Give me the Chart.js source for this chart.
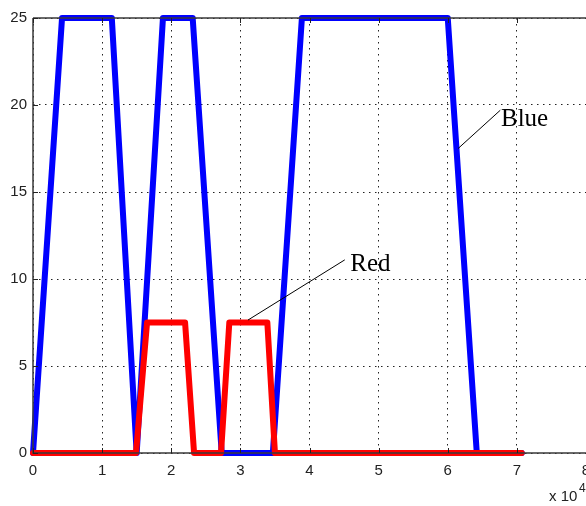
<!DOCTYPE html>
<html>
<head>
<meta charset="utf-8">
<script src="https://cdn.jsdelivr.net/npm/chart.js@4/dist/chart.umd.min.js"></script>
<style>
  html, body { margin: 0; padding: 0; background: #fff; overflow: hidden; }
  #wrap { width: 620px; height: 506px; }
</style>
</head>
<body>
<div id="wrap"><canvas id="c" width="620" height="506"></canvas></div>
<script>
// ---- data (x in units of 10^4) ----
const blueX = [0, 0.42, 1.14, 1.50, 1.88, 2.31, 2.73, 3.47, 3.89, 6.00, 6.42, 7.07];
const blueY = [0, 25,   25,   0,    25,   25,   0,    0,    25,   25,   0,    0];
const redX  = [0, 1.49, 1.65, 2.20, 2.33, 2.72, 2.84, 3.39, 3.50, 7.07];
const redY  = [0, 0,    7.5,  7.5,  0,    0,    7.5,  7.5,  0,    0];
const xTicks = [0, 1, 2, 3, 4, 5, 6, 7, 8];
const yTicks = [0, 5, 10, 15, 20, 25];
const xExponentLabel = ['x 10', '4'];
const annotations = [
  { text: 'Blue', from: [6.15, 17.5], to: [6.76, 19.7], textAt: [6.77, 18.8] },
  { text: 'Red',  from: [3.11, 7.64], to: [4.51, 11.1], textAt: [4.59, 10.46] }
];

const toPts = (xs, ys) => xs.map((x, i) => ({ x: x, y: ys[i] }));

const overlay = {
  id: 'overlay',
  afterDatasetsDraw(chart) {
    const ctx = chart.ctx;
    const xs = chart.scales.x, ys = chart.scales.y;
    const a = chart.chartArea;
    ctx.save();
    // axis lines on top of data
    ctx.strokeStyle = '#3a3a3a';
    ctx.lineWidth = 1.5;
    ctx.beginPath();
    ctx.moveTo(a.left, a.top); ctx.lineTo(a.left, a.bottom); ctx.lineTo(a.right + 5, a.bottom);
    ctx.moveTo(a.left, a.top); ctx.lineTo(a.right + 5, a.top);
    ctx.stroke();
    // inward tick marks
    ctx.lineWidth = 1;
    ctx.strokeStyle = '#222';
    ctx.beginPath();
    xTicks.forEach(v => {
      const px = Math.round(xs.getPixelForValue(v)) + 0.5;
      ctx.moveTo(px, a.bottom); ctx.lineTo(px, a.bottom - 5);
      ctx.moveTo(px, a.top); ctx.lineTo(px, a.top + 5);
    });
    yTicks.forEach(v => {
      const py = Math.round(ys.getPixelForValue(v)) + 0.5;
      ctx.moveTo(a.left, py); ctx.lineTo(a.left + 5, py);
    });
    ctx.stroke();
    // annotations
    ctx.strokeStyle = '#000';
    ctx.lineWidth = 1;
    ctx.fillStyle = '#000';
    ctx.font = '25px "Liberation Serif", "DejaVu Serif", serif';
    ctx.textBaseline = 'alphabetic';
    ctx.textAlign = 'left';
    annotations.forEach(an => {
      ctx.beginPath();
      ctx.moveTo(xs.getPixelForValue(an.from[0]), ys.getPixelForValue(an.from[1]));
      ctx.lineTo(xs.getPixelForValue(an.to[0]), ys.getPixelForValue(an.to[1]));
      ctx.stroke();
      ctx.fillText(an.text, xs.getPixelForValue(an.textAt[0]), ys.getPixelForValue(an.textAt[1]));
    });
    // exponent label
    ctx.fillStyle = '#222';
    ctx.font = '15px "Liberation Sans", Arial, sans-serif';
    ctx.fillText(xExponentLabel[0], 549, 501);
    ctx.font = '12px "Liberation Sans", Arial, sans-serif';
    ctx.fillText(xExponentLabel[1], 579, 492);
    ctx.restore();
  }
};

new Chart(document.getElementById('c'), {
  type: 'line',
  data: {
    datasets: [
      { label: 'Red', data: toPts(redX, redY), borderColor: '#ff0000', borderWidth: 6, clip: false,
        pointRadius: 0, tension: 0, order: 0, borderJoinStyle: 'round', borderCapStyle: 'round' },
      { label: 'Blue', data: toPts(blueX, blueY), borderColor: '#0000ff', borderWidth: 6, clip: false,
        pointRadius: 0, tension: 0, order: 1, borderJoinStyle: 'round', borderCapStyle: 'round' }
    ]
  },
  options: {
    responsive: false,
    animation: false,
    devicePixelRatio: 1,
    layout: { padding: { top: 18, right: 34, left: 0, bottom: 0 } },
    plugins: { legend: { display: false }, tooltip: { enabled: false } },
    scales: {
      x: {
        type: 'linear', min: 0, max: 8,
        afterBuildTicks: s => { s.ticks = xTicks.map(v => ({ value: v })); },
        afterFit: s => { s.height = 53; },
        grid: { color: '#222', lineWidth: 1, drawTicks: false },
        border: { display: false, dash: [1.5, 4.5] },
        ticks: { padding: 9, color: '#222', font: { family: '"Liberation Sans", Arial, sans-serif', size: 15 }, maxRotation: 0, autoSkip: false }
      },
      y: {
        type: 'linear', min: 0, max: 25,
        afterBuildTicks: s => { s.ticks = yTicks.map(v => ({ value: v })); },
        afterFit: s => { s.width = 33; },
        grid: { color: '#222', lineWidth: 1, drawTicks: false },
        border: { display: false, dash: [1.5, 4.5] },
        ticks: { padding: 6, color: '#222', font: { family: '"Liberation Sans", Arial, sans-serif', size: 15 } }
      }
    }
  },
  plugins: [overlay]
});
</script>
</body>
</html>
